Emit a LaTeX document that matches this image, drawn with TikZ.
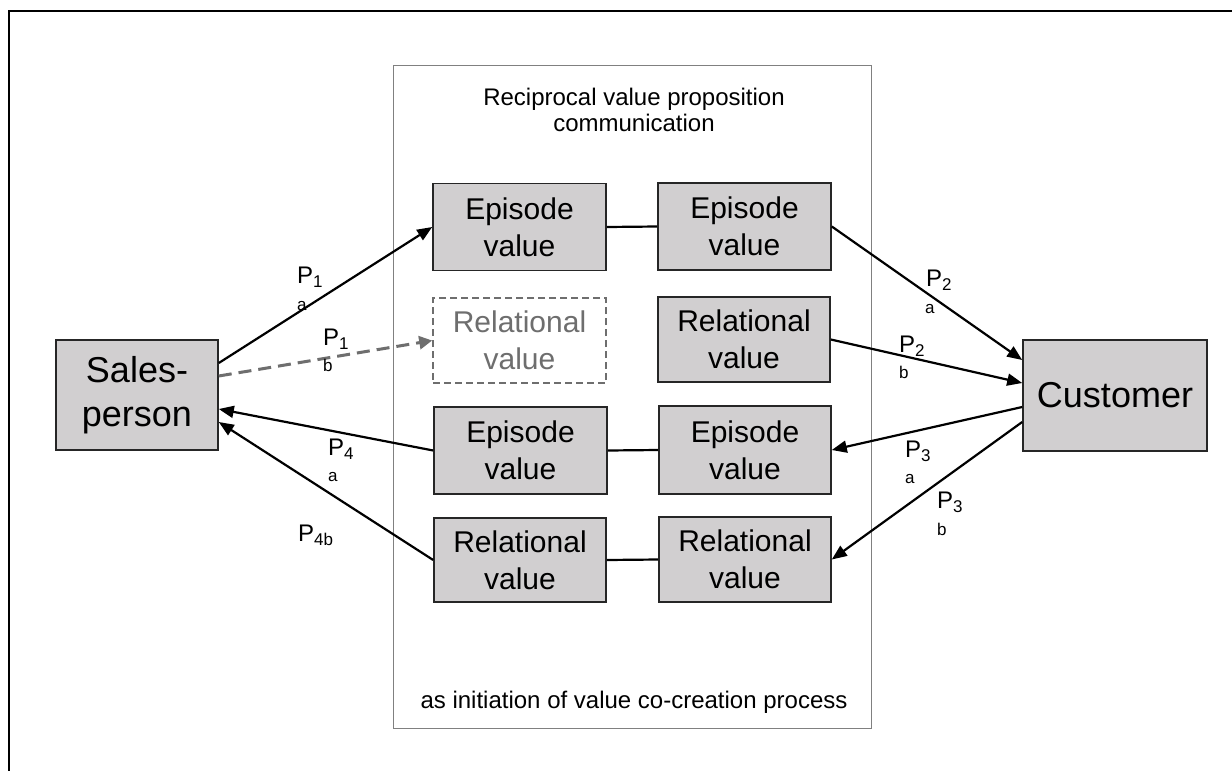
\documentclass[tikz,border=0pt]{standalone}
\usepackage{fontspec}
\setmainfont{Liberation Sans}
\usetikzlibrary{arrows.meta}
\definecolor{boxfill}{HTML}{D1CFD0}
\definecolor{boxline}{HTML}{262626}
\definecolor{dimgray}{HTML}{6E6E6E}
\definecolor{framegray}{HTML}{808080}
\newcommand{\psub}[1]{P\raisebox{-4pt}{\fontsize{17}{17}\selectfont #1}}
\begin{document}
\begin{tikzpicture}[x=1pt,y=-1pt,
  vbox/.style={draw=boxline, fill=boxfill, line width=1.6pt, align=center, inner sep=0pt,
    font=\fontsize{30}{37}\selectfont, minimum width=173pt, minimum height=87pt},
  dbox/.style={vbox, fill=none, draw=dimgray, text=dimgray, dash pattern=on 7pt off 4pt},
  actor/.style={vbox, font=\fontsize{36}{44}\selectfont},
  conn/.style={line width=2.2pt, black},
  arr/.style={conn, -{Triangle[length=15pt,width=12pt]}},
  darr/.style={arr, draw=dimgray, line width=3pt, dash pattern=on 13pt off 7pt, -{Triangle[length=13pt,width=13pt]}},
  plab/.style={anchor=base west, inner sep=0pt, font=\fontsize{24}{24}\selectfont},
  slab/.style={anchor=base west, inner sep=0pt, font=\fontsize{17}{17}\selectfont},
  txt/.style={inner sep=0pt, align=center, font=\fontsize{24}{26}\selectfont}
]
\useasboundingbox (0,0) rectangle (1232,771);
\fill[white] (0,0) rectangle (1232,771);
% outer frame (only top and left visible)
\draw[line width=2.2pt, black] (9,771) -- (9,11) -- (1232,11);
% inner box
\node[draw=framegray, line width=0.9pt, minimum width=478pt, minimum height=663pt, inner sep=0pt] (frame) at (632,396.5) {};
\node[txt, anchor=base] (title) at (634,131) {Reciprocal value proposition\\communication};
\node[txt, anchor=base] (bottom) at (634,708) {as initiation of value co-creation process};
% actors
\node[actor, minimum width=162pt, minimum height=110pt] (sales) at (137,395) {Sales-\\person};
\node[actor, minimum width=184pt, minimum height=111pt] (cust) at (1115,395.5) {Customer};
% value boxes
\node[vbox] (e1l) at (519.5,227) {Episode\\value};
\node[vbox] (e1r) at (744.5,226.5) {Episode\\value};
\node[dbox, minimum height=85pt] (rdl) at (519.5,340.5) {Relational\\value};
\node[vbox, minimum width=172pt, minimum height=85pt] (r1r) at (744,339.5) {Relational\\value};
\node[vbox] (e2l) at (520.5,450.5) {Episode\\value};
\node[vbox, minimum width=172pt, minimum height=88pt] (e2r) at (745,450) {Episode\\value};
\node[vbox, minimum width=172pt, minimum height=84pt] (r2l) at (520,560) {Relational\\value};
\node[vbox, minimum width=172pt, minimum height=85pt] (r2r) at (745,559.5) {Relational\\value};
% links between pairs
\draw[conn] (e1l.east) -- (e1r.west);
\draw[conn] (e2l.east) -- (e2r.west);
\draw[conn] (r2l.east) -- (r2r.west);
% arrows
\draw[arr] ([yshift=32pt]sales.east) -- (e1l.west);
\draw[darr] ([yshift=19pt]sales.east) -- (rdl.west);
\draw[arr] (e2l.west) -- ([yshift=-14pt]sales.east);
\draw[arr] (r2l.west) -- ([yshift=-27pt]sales.east);
\draw[arr] (e1r.east) -- ([yshift=35.5pt]cust.west);
\draw[arr] (r1r.east) -- ([yshift=12.5pt]cust.west);
\draw[arr] ([yshift=-11.5pt]cust.west) -- (e2r.east);
\draw[arr] ([yshift=-26.5pt]cust.west) -- (r2r.east);
% labels
\node[plab] (p1a) at (297,283) {\psub{1}};
\node[slab] (p1as) at (297,310) {a};
\node[plab] (p1b) at (323,345) {\psub{1}};
\node[slab] (p1bs) at (323,371) {b};
\node[plab] (p4a) at (328,455) {\psub{4}};
\node[slab] (p4as) at (328,481) {a};
\node[plab] (p4b) at (298,541) {\psub{4b}};
\node[plab] (p2a) at (926,286) {\psub{2}};
\node[slab] (p2as) at (925,313) {a};
\node[plab] (p2b) at (899,352) {\psub{2}};
\node[slab] (p2bs) at (899,378) {b};
\node[plab] (p3a) at (905,457) {\psub{3}};
\node[slab] (p3as) at (905,483) {a};
\node[plab] (p3b) at (937,508) {\psub{3}};
\node[slab] (p3bs) at (937,535) {b};
\end{tikzpicture}
\end{document}
